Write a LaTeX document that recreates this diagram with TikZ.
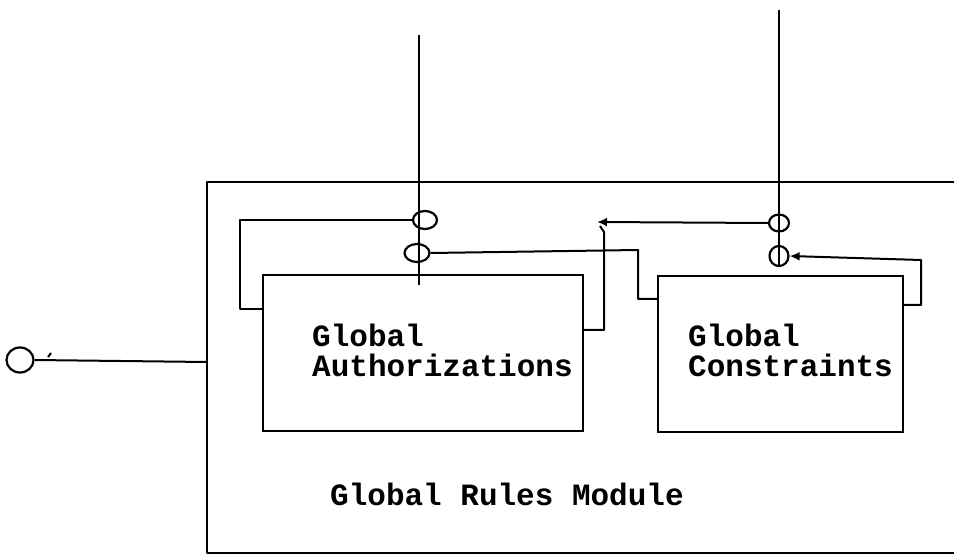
\documentclass[tikz,border=0pt]{standalone}
\usepackage{fontspec}
\setmonofont{Liberation Mono}
\usepackage{tikz}
\usetikzlibrary{calc, arrows.meta, shapes.geometric, positioning}

\tikzset{
  wire/.style={line width=2pt, line join=round},
  rulebox/.style={draw, line width=2.2pt, inner sep=0pt},
  port/.style={draw, ellipse, line width=2.2pt, inner sep=0pt},
  lbl/.style={font=\ttfamily\bfseries\fontsize{31}{30}\selectfont, inner sep=0pt, align=left},
  arr/.style={wire, -{Latex[length=10pt, width=9pt]}}
}

\begin{document}
\begin{tikzpicture}[x=1pt, y=-1pt]
      \useasboundingbox (0,0) rectangle (954,556);
      \node[rulebox, minimum width=320pt, minimum height=156pt] (auth) at (423,353) {};
      \node[rulebox, minimum width=245pt, minimum height=156pt] (cons) at (780.5,354) {};
      \node[lbl, anchor=base west] (authtext) at (312,377) {Global\\Authorizations};
      \node[lbl, anchor=base west] (constext) at (688,377) {Global\\Constraints};
      \node[lbl, anchor=base west] (modtext) at (330,505) {Global Rules Module};
      \node[port, minimum width=24pt, minimum height=18pt] (a1) at (425,220) {};
      \node[port, minimum width=25pt, minimum height=18pt] (a2) at (417,253) {};
      \node[port, minimum width=20pt, minimum height=17pt] (c1) at (779,223) {};
      \node[port, minimum width=19pt, minimum height=20pt] (c2) at (779,256) {};
      \node[port, minimum width=27pt, minimum height=25pt] (ext) at (20,360) {};
      \coordinate (atop) at (419,35);
      \coordinate (ctop) at (779,10);
      \coordinate (modw) at (207,362);
      \coordinate (join) at (597,222);
      \draw[wire] (954,182) -| (207,553) -- (954,553);
      \draw[wire] (atop) -- ([yshift=-11pt]atop |- auth.north);
      \draw[wire] (ctop) -- (c2.south);
      \draw[wire] (a1.west) -| (240,309) -- (auth.west |- 0,309);
      \draw[wire] (a2.east) -- (638,250) |- (cons.west |- 0,299);
      \draw[wire] (auth.east |- 0,330) -| (604,232) -- (600,226);
      \draw[arr] (c1.west) -- (join);
      \draw[arr] (cons.east |- 0,305) -| (921,260) -- (c2.east);
      \draw[wire] (ext.east) -- (modw);
      \draw[wire] (48,357) -- (51,353);
\end{tikzpicture}
\end{document}
